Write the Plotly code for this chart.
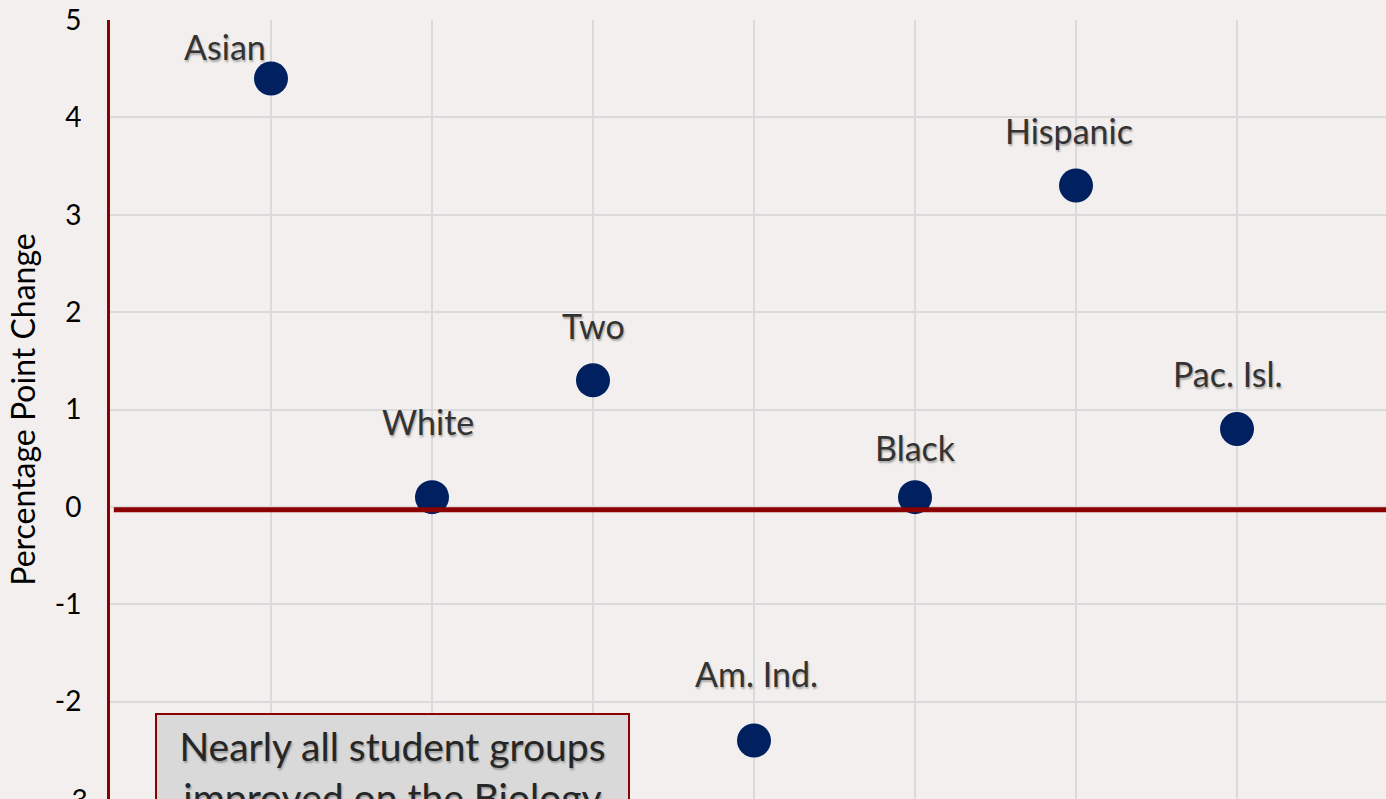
import plotly.graph_objects as go

groups = ["Asian", "White", "Two", "Am. Ind.", "Black", "Hispanic", "Pac. Isl."]
changes = [4.4, 0.1, 1.3, -2.4, 0.1, 3.3, 0.8]
y_ticks = [-3, -2, -1, 0, 1, 2, 3, 4, 5]
note_text = "Nearly all student groups<br>improved on the Biology<br>EOC"

# label offsets in pixels (style only)
label_dx = [-46, -4, 0, 2, 0, -7, -9]
label_dy = [32, 76, 55, 67, 50, 55, 55]

xs = list(range(1, len(groups) + 1))

BG = "#F2EFEE"
RED = "#8B0000"
NAVY = "#002060"
FONT = "Lato"
SHADOW = "1px 2px 2px rgba(0,0,0,0.30)"

fig = go.Figure()
fig.add_trace(go.Scatter(
    x=xs, y=changes, mode="markers",
    marker=dict(size=34, color=NAVY, line=dict(width=0)),
    hoverinfo="text", text=groups, showlegend=False,
))

for xi, yi, g, dx, dy in zip(xs, changes, groups, label_dx, label_dy):
    fig.add_annotation(
        x=xi, y=yi, text=g, showarrow=False,
        xshift=dx, yshift=dy, xanchor="center", yanchor="middle",
        font=dict(family=FONT, size=34, color="#333333", shadow=SHADOW),
    )

fig.add_shape(type="line", xref="paper", x0=0.003, x1=1, yref="y", y0=-0.03, y1=-0.03,
              line=dict(color=RED, width=5), layer="above")

fig.add_annotation(
    xref="x", yref="y", x=0.28, y=-2.118, xanchor="left", yanchor="top",
    text=note_text, showarrow=False, align="center",
    width=455, bgcolor="#D9D9D9", bordercolor=RED, borderwidth=2, borderpad=8,
    font=dict(family=FONT, size=39, color="#262626", shadow=SHADOW),
)

# bottom tick label sits on the page edge (half visible, as in the reference)
fig.add_annotation(
    xref="paper", yref="y", x=0, y=y_ticks[0], xanchor="right", yanchor="middle",
    xshift=-20, text=str(y_ticks[0]), showarrow=False,
    font=dict(family=FONT, size=28, color="#000000"),
)

fig.update_layout(
    width=1386, height=799,
    margin=dict(l=110, r=0, t=20, b=0),
    paper_bgcolor=BG, plot_bgcolor=BG,
    font=dict(family=FONT, size=28, color="#000000"),
    xaxis=dict(range=[0, 1276 / 161], tick0=0, dtick=1, showticklabels=False,
               showgrid=True, gridcolor="#DADADA", gridwidth=2, zeroline=False,
               showline=False, ticks=""),
    yaxis=dict(range=[-3, 5], tickvals=y_ticks, ticktext=[str(v) for v in y_ticks],
               showgrid=True, gridcolor="#DADADA", gridwidth=2, zeroline=False,
               showline=True, linecolor=RED, linewidth=3, ticks="",
               ticklabelstandoff=20,
               title=dict(text="Percentage Point Change", standoff=10,
                          font=dict(family=FONT, size=32, color="#000000")),
               tickfont=dict(family=FONT, size=28, color="#000000")),
)

fig.write_html(
    "out.html",
    config={"displayModeBar": False},
    post_script="document.body.style.margin='0';document.body.style.background='%s';"
                "document.body.style.overflow='hidden';" % BG,
)
